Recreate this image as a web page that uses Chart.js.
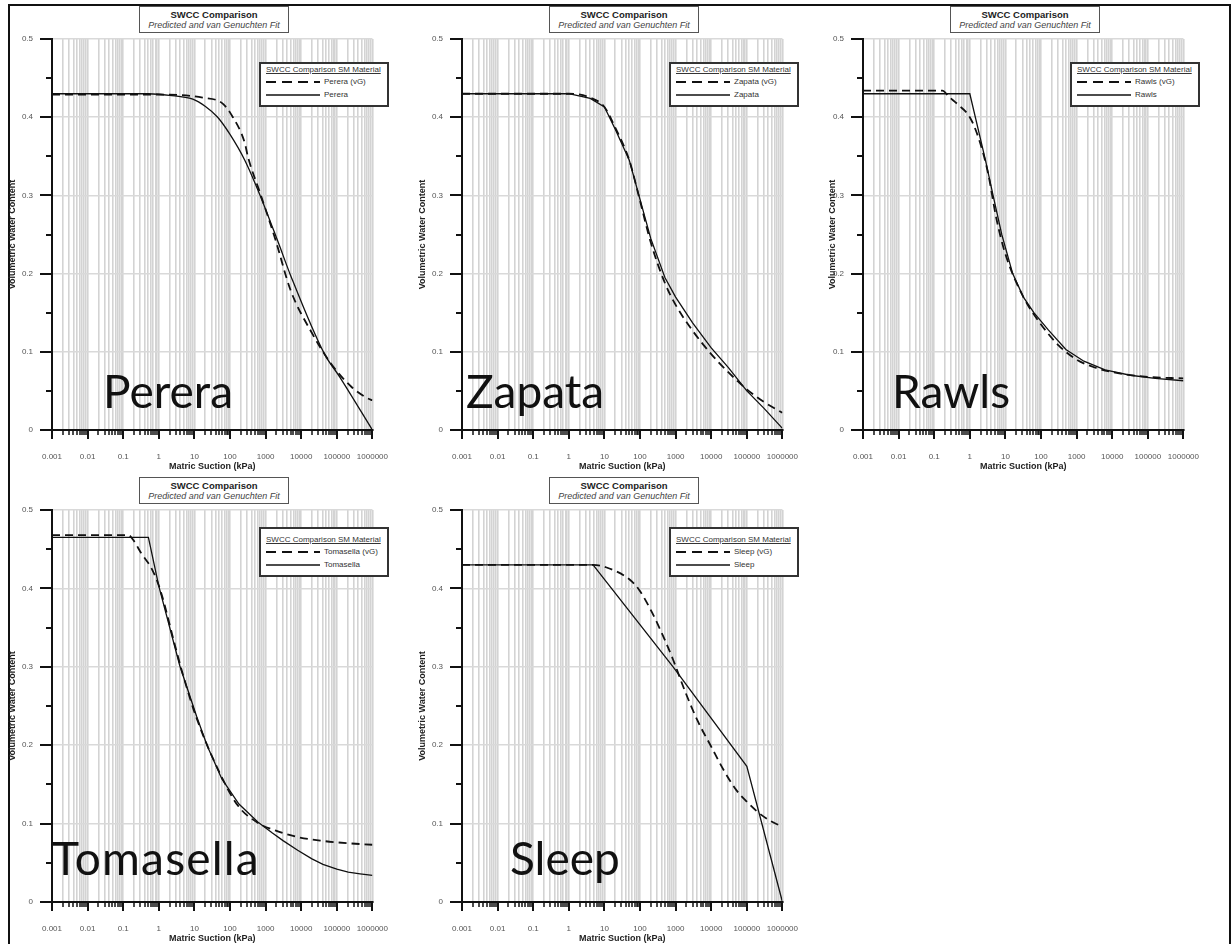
<!DOCTYPE html>
<html>
<head>
<meta charset="utf-8">
<script src="https://cdn.jsdelivr.net/npm/chart.js@4.4.1/dist/chart.umd.min.js"></script>
<style>
  body { margin: 0; width: 1231px; height: 944px; background: #fff; position: relative; overflow: hidden;
         font-family: "Liberation Sans", Arial, sans-serif; }
  #frame { position: absolute; left: 8px; top: 4px; width: 1219px; height: 950px; border: 2px solid #111; border-bottom: none; }
  .panel { position: absolute; width: 410px; height: 473px; }
  .panel canvas { position: absolute; left: 0; top: 0; }
  .ttl { position: absolute; left: 139px; top: 6px; width: 150px; height: 27px; border: 1px solid #555; background: #fff;
         text-align: center; color: #222; box-sizing: border-box; }
  .ttl b { display: block; font-size: 9.5px; line-height: 11px; margin-top: 2px; }
  .ttl i { display: block; font-size: 9px; line-height: 11px; color: #444; }
  .leg { position: absolute; left: 259px; width: 130px; border: 2px solid #333; background: #fff; box-sizing: border-box;
         font-size: 8px; color: #333; }
  .leg .hd { position: absolute; left: 5px; text-decoration: underline; white-space: nowrap; color: #333; }
  .leg .row { position: absolute; left: 5px; height: 10px; white-space: nowrap; }
  .leg svg { position: absolute; left: 0; top: 0; }
  .leg .row span { position: absolute; left: 58px; top: 0; line-height: 10px; color: #333; }
  .name { position: absolute; font-family: Lato, "Open Sans", sans-serif; font-size: 46px; line-height: 46px; color: #111; white-space: nowrap; }
</style>
</head>
<body>
<div id="frame"></div>
<div id="root"></div>
<script>
// axis tick labels
const SUCTION_TICKS = ['0.001', '0.01', '0.1', '1', '10', '100', '1000', '10000', '100000', '1000000'];
const WATER_TICKS = ['0', '0.1', '0.2', '0.3', '0.4', '0.5'];

// Perera
const PERERA_VG_X = [0.001, 1, 17, 60, 110, 260, 320, 700, 1900, 5000, 20000, 66000, 260000, 700000, 1000000];
const PERERA_VG_Y = [0.429, 0.429, 0.425, 0.418, 0.403, 0.367, 0.349, 0.303, 0.243, 0.179, 0.124, 0.086, 0.055, 0.041, 0.038];
const PERERA_X = [0.001, 0.5, 2, 9, 20, 45, 100, 260, 700, 2300, 5000, 44000, 120000, 1000000];
const PERERA_Y = [0.430, 0.430, 0.428, 0.423, 0.414, 0.400, 0.378, 0.345, 0.300, 0.239, 0.198, 0.098, 0.068, 0.0];

// Zapata
const ZAPATA_VG_X = [0.001, 1, 4, 10, 20, 50, 100, 200, 500, 1000, 3000, 10000, 30000, 100000, 300000, 1000000];
const ZAPATA_VG_Y = [0.430, 0.430, 0.425, 0.413, 0.387, 0.345, 0.293, 0.240, 0.188, 0.160, 0.127, 0.097, 0.074, 0.052, 0.036, 0.022];
const ZAPATA_X = [0.001, 1, 4, 10, 20, 50, 100, 200, 500, 1000, 3000, 10000, 30000, 100000, 300000, 1000000];
const ZAPATA_Y = [0.430, 0.430, 0.424, 0.413, 0.385, 0.345, 0.295, 0.245, 0.195, 0.170, 0.137, 0.105, 0.080, 0.050, 0.028, 0.002];

// Rawls
const RAWLS_VG_X = [0.001, 0.17, 0.26, 0.47, 1, 1.8, 3.2, 5.6, 10, 32, 100, 316, 1000, 3200, 10000, 100000, 1000000];
const RAWLS_VG_Y = [0.434, 0.434, 0.426, 0.416, 0.400, 0.372, 0.330, 0.270, 0.225, 0.170, 0.135, 0.108, 0.090, 0.080, 0.074, 0.068, 0.066];
const RAWLS_X = [0.001, 1, 2.75, 4.5, 7.9, 16, 32, 63, 160, 500, 1600, 6300, 32000, 160000, 1000000];
const RAWLS_Y = [0.430, 0.430, 0.345, 0.300, 0.250, 0.200, 0.170, 0.150, 0.128, 0.103, 0.088, 0.077, 0.070, 0.066, 0.063];

// Tomasella
const TOMASELLA_VG_X = [0.001, 0.14, 0.19, 0.32, 0.65, 1.1, 2.9, 4.9, 11, 43, 166, 661, 1950, 7586, 38905, 199526, 1000000];
const TOMASELLA_VG_Y = [0.468, 0.468, 0.462, 0.445, 0.424, 0.398, 0.326, 0.288, 0.237, 0.172, 0.123, 0.100, 0.091, 0.083, 0.078, 0.075, 0.073];
const TOMASELLA_X = [0.001, 0.51, 1, 3.9, 11.5, 23, 59, 178, 603, 1549, 3160, 7943, 20000, 40738, 100000, 208930, 450000, 1000000];
const TOMASELLA_Y = [0.465, 0.465, 0.403, 0.301, 0.237, 0.199, 0.157, 0.125, 0.102, 0.088, 0.078, 0.066, 0.055, 0.048, 0.042, 0.038, 0.036, 0.034];

// Sleep
const SLEEP_VG_X = [0.001, 4.8, 11, 49, 95, 219, 490, 850, 1905, 4365, 9772, 21878, 50119, 100000, 199526, 436516, 891251];
const SLEEP_VG_Y = [0.430, 0.430, 0.427, 0.412, 0.398, 0.369, 0.335, 0.309, 0.267, 0.229, 0.199, 0.169, 0.143, 0.128, 0.115, 0.104, 0.097];
const SLEEP_X = [0.001, 4.8, 850, 100000, 1000000];
const SLEEP_Y = [0.430, 0.430, 0.300, 0.173, 0.0];

const panels = [
  { name: 'Perera', axisX: 52, plotTop: 39, vgX: PERERA_VG_X, vgY: PERERA_VG_Y, x: PERERA_X, y: PERERA_Y, smooth: true, nameX: 103, spacing: 0, yTitlePad: 7 },
  { name: 'Zapata', axisX: 462, plotTop: 39, vgX: ZAPATA_VG_X, vgY: ZAPATA_VG_Y, x: ZAPATA_X, y: ZAPATA_Y, smooth: false, nameX: 56, spacing: 0, yTitlePad: 7 },
  { name: 'Rawls', axisX: 863, plotTop: 39, vgX: RAWLS_VG_X, vgY: RAWLS_VG_Y, x: RAWLS_X, y: RAWLS_Y, smooth: false, nameX: 81, spacing: 0, yTitlePad: 16 },
  { name: 'Tomasella', axisX: 52, plotTop: 510, vgX: TOMASELLA_VG_X, vgY: TOMASELLA_VG_Y, x: TOMASELLA_X, y: TOMASELLA_Y, smooth: false, nameX: 52, spacing: 1.2, yTitlePad: 7 },
  { name: 'Sleep', axisX: 462, plotTop: 510, vgX: SLEEP_VG_X, vgY: SLEEP_VG_Y, x: SLEEP_X, y: SLEEP_Y, smooth: false, nameX: 100, spacing: 0, yTitlePad: 7 }
];

Chart.defaults.font.family = '"Liberation Sans", Arial, sans-serif';

function isPow10(v) {
  const l = Math.log10(v);
  return Math.abs(l - Math.round(l)) < 1e-9;
}
function isTenth(v) {
  return Math.abs(v * 10 - Math.round(v * 10)) < 1e-9;
}
function toPoints(xs, ys) {
  return xs.map((x, i) => ({ x: x, y: ys[i] }));
}

// 1..9 per decade, built from the decade labels
const suctionTickValues = [];
SUCTION_TICKS.forEach((lbl, i) => {
  const d = parseFloat(lbl);
  if (i === SUCTION_TICKS.length - 1) { suctionTickValues.push(d); return; }
  for (let m = 1; m <= 9; m++) suctionTickValues.push(parseFloat((m * d).toPrecision(6)));
});

// short black tick marks outside the axes
const tickMarks = {
  id: 'tickMarks',
  afterDraw(chart) {
    const ctx = chart.ctx, xs = chart.scales.x, ys = chart.scales.y;
    const area = chart.chartArea;
    ctx.save();
    ctx.strokeStyle = '#111';
    xs.ticks.forEach(t => {
      const px = Math.round(xs.getPixelForValue(t.value));
      const major = isPow10(t.value);
      ctx.lineWidth = major ? 2 : 1.5;
      ctx.beginPath();
      ctx.moveTo(px, area.bottom);
      ctx.lineTo(px, area.bottom + (major ? 9 : 5));
      ctx.stroke();
    });
    ys.ticks.forEach(t => {
      const py = Math.round(ys.getPixelForValue(t.value));
      const major = isTenth(t.value);
      ctx.lineWidth = 2;
      ctx.beginPath();
      ctx.moveTo(area.left, py);
      ctx.lineTo(area.left - (major ? 12 : 6), py);
      ctx.stroke();
    });
    ctx.restore();
  }
};

const root = document.getElementById('root');

panels.forEach((p, i) => {
  const bottomRow = p.plotTop > 100;
  const wrap = document.createElement('div');
  wrap.className = 'panel';
  wrap.style.left = (p.axisX - 52) + 'px';
  wrap.style.top = (p.plotTop - 39) + 'px';
  const h = bottomRow ? 473 : 472;
  wrap.innerHTML =
    '<canvas width="410" height="' + h + '"></canvas>' +
    '<div class="ttl"><b>SWCC Comparison</b><i>Predicted and van Genuchten Fit</i></div>' +
    '<div class="leg" style="top:' + (bottomRow ? 56 : 62) + 'px;height:' + (bottomRow ? 50 : 45) + 'px">' +
      '<div class="hd" style="top:' + (bottomRow ? 6 : 1) + 'px">SWCC Comparison SM Material</div>' +
      '<div class="row" style="top:' + (bottomRow ? 18 : 13) + 'px"><svg width="56" height="10"><line x1="0" y1="5" x2="54" y2="5" stroke="#111" stroke-width="2" stroke-dasharray="10,6"/></svg><span>' + p.name + ' (vG)</span></div>' +
      '<div class="row" style="top:' + (bottomRow ? 31 : 26) + 'px"><svg width="56" height="10"><line x1="0" y1="5" x2="54" y2="5" stroke="#111" stroke-width="1.3"/></svg><span>' + p.name + '</span></div>' +
    '</div>' +
    '<div class="name" style="left:' + p.nameX + 'px;top:' + (bottomRow ? 364 : 368) + 'px;letter-spacing:' + p.spacing + 'px">' + p.name + '</div>';
  root.appendChild(wrap);

  new Chart(wrap.querySelector('canvas'), {
    type: 'line',
    data: {
      datasets: [
        {
          label: p.name + ' (vG)',
          data: toPoints(p.vgX, p.vgY),
          borderColor: '#111',
          borderWidth: 1.8,
          borderDash: [8, 5],
          pointRadius: 0,
          cubicInterpolationMode: 'monotone'
        },
        {
          label: p.name,
          data: toPoints(p.x, p.y),
          borderColor: '#111',
          borderWidth: 1.3,
          pointRadius: 0,
          cubicInterpolationMode: p.smooth ? 'monotone' : 'default',
          tension: 0
        }
      ]
    },
    options: {
      responsive: false,
      animation: false,
      events: [],
      layout: { padding: { left: 0, right: 7, top: 39, bottom: 0 } },
      plugins: {
        legend: { display: false },
        tooltip: { enabled: false }
      },
      scales: {
        x: {
          type: 'logarithmic',
          min: 0.001,
          max: 1000000,
          afterBuildTicks: function(scale) {
            scale.ticks = suctionTickValues.map(v => ({ value: v }));
          },
          afterFit: function(scale) { scale.height = 42; },
          ticks: {
            autoSkip: false,
            maxRotation: 0,
            minRotation: 0,
            padding: 22,
            color: '#555',
            font: { size: 8 },
            callback: function(v) {
              if (!isPow10(v)) return '';
              return SUCTION_TICKS[Math.round(Math.log10(v)) + 3];
            }
          },
          grid: { color: '#d3d3d3', lineWidth: 1.6, drawTicks: false },
          border: { color: '#111', width: 2 },
          title: {
            display: true,
            text: 'Matric Suction (kPa)',
            color: '#222',
            font: { size: 9, weight: 'bold' },
            padding: { top: 0, bottom: 0 }
          }
        },
        y: {
          min: 0,
          max: 0.5,
          afterFit: function(scale) { scale.width = 52; },
          ticks: {
            stepSize: 0.05,
            padding: 19,
            color: '#555',
            font: { size: 8 },
            callback: function(v) {
              if (!isTenth(v)) return '';
              return WATER_TICKS[Math.round(v * 10)];
            }
          },
          grid: {
            drawTicks: false,
            lineWidth: 1.5,
            color: c => (c.tick && isTenth(c.tick.value)) ? '#d9d9d9' : 'rgba(0,0,0,0)'
          },
          border: { color: '#111', width: 2 },
          title: {
            display: true,
            text: 'Volumetric Water Content',
            color: '#222',
            font: { size: 9, weight: 'bold' },
            padding: { top: p.yTitlePad, bottom: 0 }
          }
        }
      }
    },
    plugins: [tickMarks]
  });
});
</script>
</body>
</html>
